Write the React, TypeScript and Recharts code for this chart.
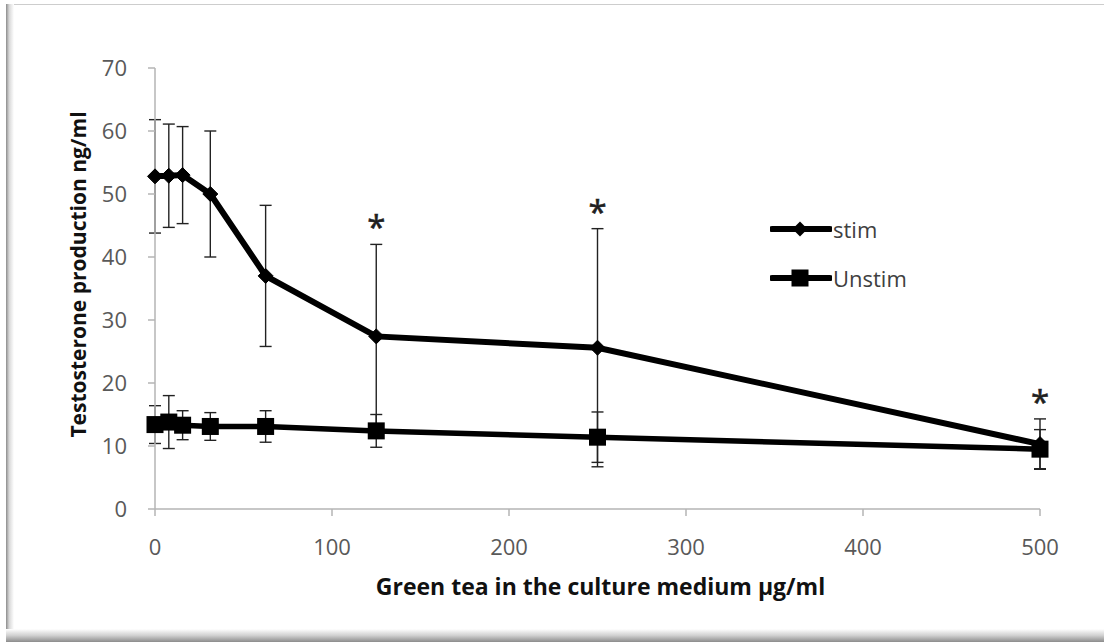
import React from 'react';
import { LineChart, Line, XAxis, YAxis, ErrorBar, Legend, LabelList, Label } from 'recharts';

const doses = [0, 7.8, 15.6, 31.25, 62.5, 125, 250, 500];
const stim = [52.8, 52.9, 53, 50, 37, 27.4, 25.6, 10.3];
const stimErr = [9, 8.2, 7.7, 10, 11.2, 14.6, 18.9, 4];
const unstim = [13.4, 13.8, 13.3, 13.1, 13.1, 12.4, 11.4, 9.5];
const unstimErr = [3, 4.2, 2.3, 2.2, 2.5, 2.6, 4, 3.1];
const significance = ['', '', '', '', '', '*', '*', '*'];
const xTicks = [0, 100, 200, 300, 400, 500];
const yTicks = [0, 10, 20, 30, 40, 50, 60, 70];
const seriesNames = ['stim', 'Unstim'];
const xTitle = 'Green tea in the culture medium µg/ml';
const yTitle = 'Testosterone production ng/ml';

const data = doses.map((d, i) => ({
  dose: d,
  stim: stim[i],
  stimErr: stimErr[i],
  unstim: unstim[i],
  unstimErr: unstimErr[i],
  sigTop: significance[i] ? stim[i] + stimErr[i] : null,
  sig: significance[i],
}));

const FONT = '"Open Sans", Lato, sans-serif';

const Diamond = (props: any) => {
  const { cx, cy, index } = props;
  if (cx == null || cy == null) return <g key={'d' + index} />;
  const r = 7.5;
  return (
    <polygon
      key={'d' + index}
      points={`${cx},${cy - r} ${cx + r},${cy} ${cx},${cy + r} ${cx - r},${cy}`}
      fill="#000"
      stroke="#000"
    />
  );
};

const Square = (props: any) => {
  const { cx, cy, index } = props;
  if (cx == null || cy == null) return <g key={'s' + index} />;
  const s = 17;
  return <rect key={'s' + index} x={cx - s / 2} y={cy - s / 2} width={s} height={s} fill="#000" />;
};

const renderStar = (props: any) => {
  const { x, y, value, index } = props;
  if (!value || x == null || y == null) return null;
  return (
    <text
      key={'star' + index}
      x={x}
      y={y - 5}
      textAnchor="middle"
      fontFamily={FONT}
      fontSize={33}
      fill="#1f1f1f"
      stroke="#1f1f1f"
      strokeWidth={0.6}
    >
      {value}
    </text>
  );
};

const renderLegend = (props: any) => {
  const payload = props.payload || [];
  const items = seriesNames
    .map((n) => payload.find((p: any) => p.value === n))
    .filter(Boolean);
  return (
    <div style={{ fontFamily: FONT, fontSize: 22, color: '#404040' }}>
      {items.map((p: any) => (
        <div key={p.value} style={{ display: 'flex', alignItems: 'center', height: 49 }}>
          <svg width={62} height={22} style={{ display: 'block' }}>
            <line x1={2} y1={11} x2={60} y2={11} stroke="#000" strokeWidth={6} strokeLinecap="round" />
            {p.value === seriesNames[0] ? (
              <polygon points="30,3.5 37.5,11 30,18.5 22.5,11" fill="#000" />
            ) : (
              <rect x={21.5} y={2.5} width={17} height={17} fill="#000" />
            )}
          </svg>
          <span style={{ marginLeft: 1, lineHeight: '22px' }}>{p.value}</span>
        </div>
      ))}
    </div>
  );
};

export default function App() {
  return (
    <div
      style={{
        position: 'absolute',
        left: 0,
        top: 0,
        width: 1104,
        height: 642,
        background: '#fff',
        overflow: 'hidden',
      }}
    >
      <div style={{ position: 'absolute', left: 7, right: 0, top: 4, height: 1, background: '#cdcdcd' }} />
      <div
        style={{
          position: 'absolute',
          left: 6,
          top: 4,
          bottom: 0,
          width: 8,
          background: 'linear-gradient(to right, #8c8c8c, #d8d8d8 40%, #ffffff)',
        }}
      />
      <div
        style={{
          position: 'absolute',
          left: 6,
          right: 0,
          bottom: 0,
          height: 13,
          background: 'linear-gradient(to bottom, #ffffff, #d0d0d0 50%, #8c8c8c)',
        }}
      />
      <div style={{ position: 'absolute', left: 0, top: 0 }}>
        <LineChart
          width={1104}
          height={642}
          data={data}
          margin={{ top: 68, right: 64, bottom: 73, left: 95 }}
        >
          <XAxis
            dataKey="dose"
            type="number"
            domain={[0, 500]}
            ticks={xTicks}
            interval={0}
            axisLine={{ stroke: '#b5b5b5', strokeWidth: 1.5 }}
            tickLine={{ stroke: '#b5b5b5', strokeWidth: 1.5 }}
            tickSize={7}
            tickMargin={23}
            height={60}
            tick={{ fill: '#595959', fontSize: 22, fontFamily: FONT }}
          >
            <Label
              content={(p: any) => {
                const vb = p.viewBox || {};
                return (
                  <text
                    x={vb.x + vb.width / 2 + 3}
                    y={vb.y + 86}
                    textAnchor="middle"
                    fontFamily={FONT}
                    fontWeight="bold"
                    fontSize={23}
                    fill="#111"
                  >
                    {xTitle}
                  </text>
                );
              }}
            />
          </XAxis>
          <YAxis
            type="number"
            domain={[0, 70]}
            ticks={yTicks}
            interval={0}
            width={60}
            axisLine={{ stroke: '#b5b5b5', strokeWidth: 1.5 }}
            tickLine={{ stroke: '#b5b5b5', strokeWidth: 1.5 }}
            tickSize={7}
            tickMargin={21}
            tick={{ fill: '#595959', fontSize: 22, fontFamily: FONT }}
          >
            <Label
              content={(p: any) => {
                const vb = p.viewBox || {};
                const cx = vb.x - 17;
                const cy = vb.y + vb.height / 2 - 14;
                return (
                  <text
                    x={cx}
                    y={cy}
                    transform={`rotate(-90 ${cx} ${cy})`}
                    textAnchor="middle"
                    dominantBaseline="central"
                    fontFamily={FONT}
                    fontWeight="bold"
                    fontSize={21}
                    fill="#111"
                  >
                    {yTitle}
                  </text>
                );
              }}
            />
          </YAxis>
          <Legend
            layout="vertical"
            align="center"
            verticalAlign="middle"
            content={renderLegend}
            wrapperStyle={{ position: 'absolute', left: 770, top: 204, width: 160, height: 100 }}
          />
          <Line
            name="stim"
            dataKey="stim"
            stroke="#000"
            strokeWidth={6}
            dot={Diamond}
            activeDot={false}
            isAnimationActive={false}
          >
            <ErrorBar dataKey="stimErr" direction="y" width={6} stroke="#222" strokeWidth={1.4} />
          </Line>
          <Line
            name="Unstim"
            dataKey="unstim"
            stroke="#000"
            strokeWidth={5.5}
            dot={Square}
            activeDot={false}
            isAnimationActive={false}
          >
            <ErrorBar dataKey="unstimErr" direction="y" width={6} stroke="#222" strokeWidth={1.4} />
          </Line>
          <Line
            name="sig"
            dataKey="sigTop"
            stroke="none"
            dot={false}
            activeDot={false}
            legendType="none"
            isAnimationActive={false}
          >
            <LabelList dataKey="sig" content={renderStar} />
          </Line>
        </LineChart>
      </div>
    </div>
  );
}
